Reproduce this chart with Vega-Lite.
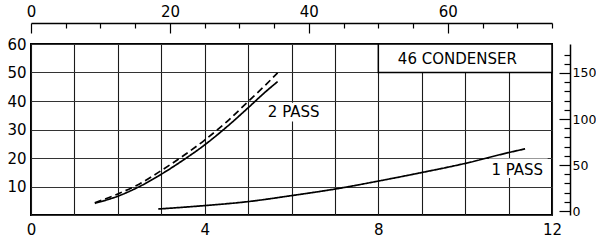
{
  "$schema": "https://vega.github.io/schema/vega-lite/v6.json",
  "width": 521,
  "height": 171,
  "autosize": "none",
  "padding": {"left": 31, "top": 44, "right": 44, "bottom": 27},
  "background": "white",
  "config": {
    "view": {"stroke": "black", "strokeWidth": 2},
    "axis": {"labelFont": "DejaVu Sans", "labelFontSize": 15, "labelColor": "black", "title": null, "labelFlush": false, "labelOverlap": false},
    "text": {"font": "DejaVu Sans"}
  },
  "datasets": {
    "curves": [
      {"series": "1 PASS", "style": "solid", "x": 2.93, "y": 2.1},
      {"series": "1 PASS", "style": "solid", "x": 4.0, "y": 3.3},
      {"series": "1 PASS", "style": "solid", "x": 5.0, "y": 4.7},
      {"series": "1 PASS", "style": "solid", "x": 6.0, "y": 6.8},
      {"series": "1 PASS", "style": "solid", "x": 7.0, "y": 9.1},
      {"series": "1 PASS", "style": "solid", "x": 8.0, "y": 11.9},
      {"series": "1 PASS", "style": "solid", "x": 9.0, "y": 14.9},
      {"series": "1 PASS", "style": "solid", "x": 10.0, "y": 18.1},
      {"series": "1 PASS", "style": "solid", "x": 11.0, "y": 21.9},
      {"series": "1 PASS", "style": "solid", "x": 11.38, "y": 23.2},
      {"series": "2 PASS A", "style": "solid", "x": 1.47, "y": 4.1},
      {"series": "2 PASS A", "style": "solid", "x": 2.0, "y": 6.6},
      {"series": "2 PASS A", "style": "solid", "x": 2.5, "y": 10.0},
      {"series": "2 PASS A", "style": "solid", "x": 3.0, "y": 14.3},
      {"series": "2 PASS A", "style": "solid", "x": 3.5, "y": 19.2},
      {"series": "2 PASS A", "style": "solid", "x": 4.0, "y": 24.6},
      {"series": "2 PASS A", "style": "solid", "x": 4.5, "y": 30.8},
      {"series": "2 PASS A", "style": "solid", "x": 5.0, "y": 37.6},
      {"series": "2 PASS A", "style": "solid", "x": 5.4, "y": 43.2},
      {"series": "2 PASS A", "style": "solid", "x": 5.68, "y": 46.8},
      {"series": "2 PASS B", "style": "dashed", "x": 1.47, "y": 4.3},
      {"series": "2 PASS B", "style": "dashed", "x": 2.0, "y": 7.4},
      {"series": "2 PASS B", "style": "dashed", "x": 2.5, "y": 10.9},
      {"series": "2 PASS B", "style": "dashed", "x": 3.0, "y": 15.6},
      {"series": "2 PASS B", "style": "dashed", "x": 3.5, "y": 20.7},
      {"series": "2 PASS B", "style": "dashed", "x": 4.0, "y": 26.3},
      {"series": "2 PASS B", "style": "dashed", "x": 4.5, "y": 32.6},
      {"series": "2 PASS B", "style": "dashed", "x": 5.0, "y": 39.8},
      {"series": "2 PASS B", "style": "dashed", "x": 5.4, "y": 45.6},
      {"series": "2 PASS B", "style": "dashed", "x": 5.68, "y": 49.9}
    ],
    "labels": [
      {"label": "46 CONDENSER", "x": 9.82, "y": 54.6},
      {"label": "2 PASS", "x": 6.05, "y": 36.1},
      {"label": "1 PASS", "x": 11.2, "y": 15.8}
    ],
    "boxes": [
      {"x": 8, "x2": 12, "y": 50, "y2": 60}
    ],
    "bgs": [
      {"x": 5.3, "x2": 6.8, "y": 32.8, "y2": 39.4},
      {"x": 10.55, "x2": 11.9, "y": 13.0, "y2": 19.8}
    ],
    "dummy": [{"t": 0, "r": 0}]
  },
  "layer": [
    {
      "encoding": {
        "x": {"field": "x", "type": "quantitative", "scale": {"domain": [0, 12], "nice": false},
          "axis": {"values": [0,1,2,3,4,5,6,7,8,9,10,11,12], "labelExpr": "datum.value % 4 == 0 ? datum.label : ''", "grid": true, "gridColor": "#1a1a1a", "gridWidth": 1.1, "ticks": false, "domain": false, "labelPadding": 7}},
        "y": {"field": "y", "type": "quantitative", "scale": {"domain": [0, 60], "nice": false},
          "axis": {"values": [0,10,20,30,40,50,60], "labelExpr": "datum.value == 0 ? '' : datum.label", "grid": true, "gridColor": "#333", "gridWidth": 1, "ticks": false, "domain": false, "labelPadding": 5}}
      },
      "layer": [
        {
          "data": {"name": "boxes"},
          "mark": {"type": "rect", "fill": "white", "stroke": "black", "strokeWidth": 1.5},
          "encoding": {
            "x2": {"field": "x2"},
            "y2": {"field": "y2"}
          }
        },
        {
          "data": {"name": "bgs"},
          "mark": {"type": "rect", "fill": "white"},
          "encoding": {
            "x2": {"field": "x2"},
            "y2": {"field": "y2"}
          }
        },
        {
          "data": {"name": "curves"},
          "mark": {"type": "line", "color": "black", "strokeWidth": 1.7, "interpolate": "monotone"},
          "encoding": {
            "detail": {"field": "series"},
            "strokeDash": {"field": "style", "type": "nominal", "scale": {"domain": ["solid", "dashed"], "range": [[1, 0], [7, 4]]}, "legend": null}
          }
        },
        {
          "data": {"name": "labels"},
          "mark": {"type": "text", "fontSize": 15, "color": "black", "align": "center", "baseline": "middle"},
          "encoding": {
            "text": {"field": "label"}
          }
        }
      ]
    },
    {
      "data": {"name": "dummy"},
      "mark": {"type": "point", "opacity": 0},
      "encoding": {
        "x": {"field": "t", "type": "quantitative", "scale": {"domain": [0, 75], "nice": false},
          "axis": {"orient": "top", "offset": 21, "values": [0, 20, 40, 60], "tickSize": -10, "tickColor": "black", "tickWidth": 1.2, "labelPadding": 14, "domain": true, "domainColor": "black", "domainWidth": 1.5, "grid": false}},
        "y": {"field": "r", "type": "quantitative", "scale": {"domain": [-4.3, 181.5], "nice": false},
          "axis": {"orient": "right", "offset": 18, "values": [0, 50, 100, 150], "tickSize": -11, "tickColor": "black", "tickWidth": 1.2, "labelPadding": 13, "labelFontSize": 12.5, "domain": true, "domainColor": "black", "domainWidth": 1.5, "grid": false}}
      }
    },
    {
      "data": {"name": "dummy"},
      "mark": {"type": "point", "opacity": 0},
      "encoding": {
        "x": {"field": "t", "type": "quantitative", "scale": {"domain": [0, 75], "nice": false},
          "axis": {"orient": "top", "offset": 21, "values": [5,10,15,25,30,35,45,50,55,65,70,75], "labels": false, "tickSize": -5, "tickColor": "black", "tickWidth": 1.2, "domain": false, "grid": false}},
        "y": {"field": "r", "type": "quantitative", "scale": {"domain": [-4.3, 181.5], "nice": false},
          "axis": {"orient": "right", "offset": 18, "values": [10,20,30,40,60,70,80,90,110,120,130,140,160,170], "labels": false, "tickSize": -6, "tickColor": "black", "tickWidth": 1.2, "domain": false, "grid": false}}
      }
    }
  ],
  "resolve": {"scale": {"x": "independent", "y": "independent"}, "axis": {"x": "independent", "y": "independent"}}
}
